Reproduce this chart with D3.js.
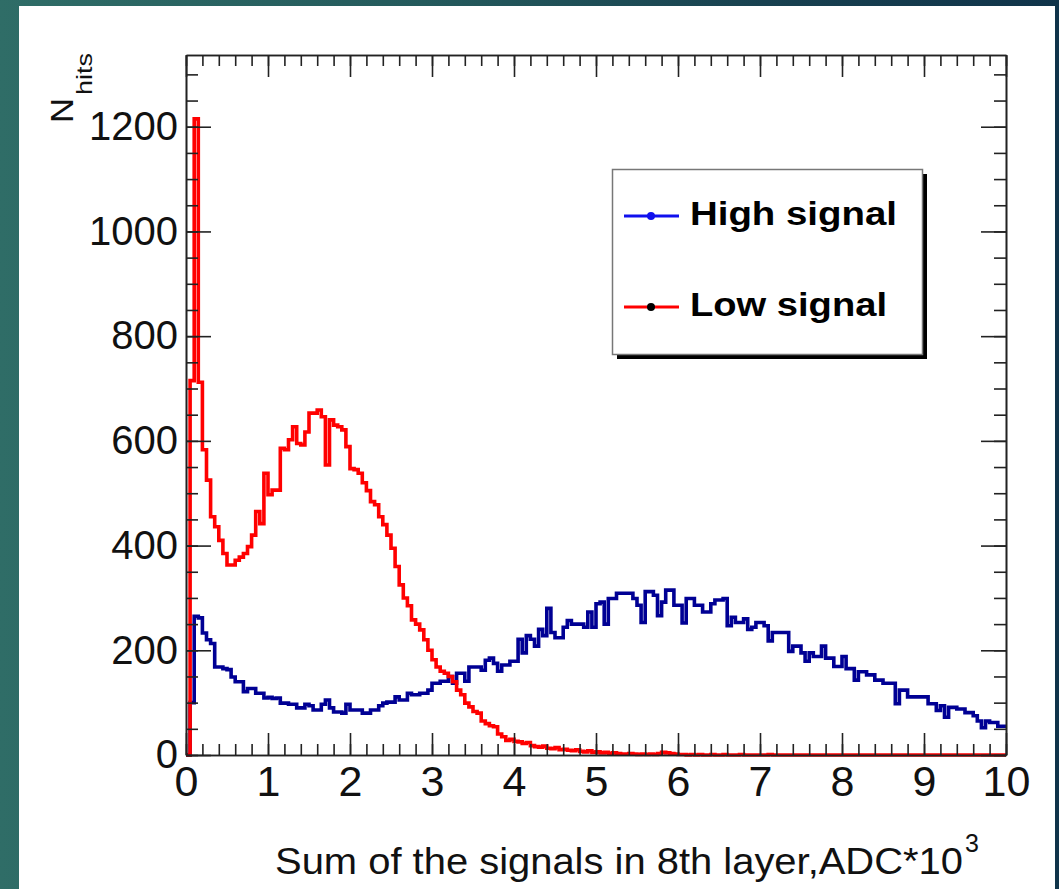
<!DOCTYPE html>
<html>
<head>
<meta charset="utf-8">
<script src="https://cdn.jsdelivr.net/npm/d3@7"></script>
<style>
  html, body { margin: 0; padding: 0; }
  body { width: 1059px; height: 889px; overflow: hidden;
         background: linear-gradient(90deg, #2f6d67 0%, #245a5c 40%, #173f4f 75%, #10344a 100%); }
  svg { position: absolute; left: 0; top: 0; }
  text { font-family: "Liberation Sans", Arial, Helvetica, sans-serif; }
</style>
</head>
<body>
<svg id="chart" width="1059" height="889"></svg>
<script>
// ---------------- data ----------------
const binEdges = [0, 10];          // x range of histogram (ADC*10^3)
const nBins = 200;                 // bin width 0.05
const xTicks = [0,1,2,3,4,5,6,7,8,9,10];
const yTicks = [0,200,400,600,800,1000,1200];
const yMax = 1337;

const highSignal = [
  0,100,265,262,233,220,213,168,168,165,
  163,149,140,140,121,127,127,118,118,109,
  110,108,109,99,99,97,97,90,90,97,
  94,86,86,97,105,90,82,82,80,97,
  86,86,86,80,80,86,86,94,99,101,
  101,111,105,105,118,115,115,118,118,124,
  137,137,141,141,150,137,156,156,141,168,
  168,168,162,181,185,175,160,172,172,179,
  179,221,195,228,221,208,240,228,280,234,
  224,224,244,257,250,250,250,244,273,244,
  289,292,250,299,299,309,309,309,309,299,
  286,253,312,312,305,266,292,315,315,286,
  286,252,299,299,286,286,273,273,289,296,
  296,299,247,263,253,253,260,240,244,253,
  253,247,218,234,234,234,234,198,208,208,
  195,179,195,188,188,208,185,185,169,169,
  188,165,165,143,159,159,153,153,143,143,
  137,137,137,98,124,124,111,111,111,111,
  111,98,98,85,94,72,91,91,88,88,
  81,81,75,65,52,65,62,62,55,55
];

const lowSignal = [
  0,715,1215,712,583,525,455,436,410,385,
  363,363,372,378,385,398,420,465,442,538,
  497,506,506,586,583,602,627,595,592,617,
  653,653,659,646,554,640,630,627,621,589,
  547,545,538,520,505,484,478,455,440,420,
  395,360,325,300,285,258,250,239,220,200,
  182,168,160,156,150,140,124,115,99,92,
  83,80,65,60,56,54,40,35,28,30,
  26,25,22,24,18,16,15,17,13,12,
  14,10,11,9,8,10,7,6,8,5,
  6,4,5,3,4,3,2,2,3,2,
  1,2,1,2,1,3,5,4,3,2,
  1,1,0,1,0,1,0,0,1,0,
  0,1,0,0,0,1,0,0,0,0,
  0,0,1,0,0,0,0,0,0,0,
  0,0,0,0,0,0,0,0,0,0,
  0,0,0,0,0,0,0,0,0,0,
  0,0,0,0,0,0,0,0,0,0,
  0,0,0,0,0,0,0,0,0,0,
  0,0,0,0,0,0,0,0,0,0
];

const seriesNames = ["High signal", "Low signal"];
const seriesColors = ["#000094", "#ff0000"];
const legendLineColors = ["#1010ee", "#ff0000"];
const legendMarkerColors = ["#1010ee", "#000000"];

// ---------------- drawing ----------------
const svg = d3.select("#chart");

// white panel
svg.append("rect").attr("x", 19).attr("y", 6).attr("width", 1036).attr("height", 883).attr("fill", "#ffffff");

const L = 186, R = 1006, T = 55, B = 755;
const x = d3.scaleLinear().domain(binEdges).range([L, R]);
const y = d3.scaleLinear().domain([0, yMax]).range([B, T]);
const bw = (binEdges[1] - binEdges[0]) / nBins;

function histPath(vals) {
  const p = d3.path();
  p.moveTo(x(0), y(0));
  vals.forEach((v, i) => {
    p.lineTo(x(i * bw), y(v));
    p.lineTo(x((i + 1) * bw), y(v));
  });
  return p.toString();
}

// histograms (blue first, red on top)
[highSignal, lowSignal].forEach((vals, k) => {
  svg.append("path")
    .attr("d", histPath(vals))
    .attr("fill", "none")
    .attr("stroke", seriesColors[k])
    .attr("stroke-width", 3.6)
    .attr("stroke-linejoin", "miter");
});

// axes
const xMinor = d3.range(0, 10.0001, 0.2).map(v => +v.toFixed(2));
const yMinor = d3.range(0, yMax, 50);
const axisColor = "#222";

function styleAxis(g) {
  g.selectAll("path.domain").attr("stroke", axisColor).attr("stroke-width", 1.6);
  g.selectAll("line").attr("stroke", axisColor).attr("stroke-width", 1.6);
}

// bottom
const gxMinor = svg.append("g").attr("transform", `translate(0,${B})`)
  .call(d3.axisBottom(x).tickValues(xMinor).tickSizeInner(-11).tickSizeOuter(0).tickFormat(""));
styleAxis(gxMinor);
const gx = svg.append("g").attr("transform", `translate(0,${B})`)
  .call(d3.axisBottom(x).tickValues(xTicks).tickSizeInner(-22).tickSizeOuter(0).tickPadding(10).tickFormat(d3.format("d")));
styleAxis(gx);
gx.selectAll("text").attr("font-size", 43).attr("fill", "#111");

// top
const gtMinor = svg.append("g").attr("transform", `translate(0,${T})`)
  .call(d3.axisTop(x).tickValues(xMinor).tickSizeInner(-11).tickSizeOuter(0).tickFormat(""));
styleAxis(gtMinor);
const gt = svg.append("g").attr("transform", `translate(0,${T})`)
  .call(d3.axisTop(x).tickValues(xTicks).tickSizeInner(-22).tickSizeOuter(0).tickFormat(""));
styleAxis(gt);

// left
const gyMinor = svg.append("g").attr("transform", `translate(${L},0)`)
  .call(d3.axisLeft(y).tickValues(yMinor).tickSizeInner(-12).tickSizeOuter(0).tickFormat(""));
styleAxis(gyMinor);
const gy = svg.append("g").attr("transform", `translate(${L},0)`)
  .call(d3.axisLeft(y).tickValues(yTicks).tickSizeInner(-25).tickSizeOuter(0).tickPadding(8).tickFormat(d3.format("d")));
styleAxis(gy);
gy.selectAll("text").attr("font-size", 40).attr("fill", "#111");

// right
const grMinor = svg.append("g").attr("transform", `translate(${R},0)`)
  .call(d3.axisRight(y).tickValues(yMinor).tickSizeInner(-12).tickSizeOuter(0).tickFormat(""));
styleAxis(grMinor);
const gr = svg.append("g").attr("transform", `translate(${R},0)`)
  .call(d3.axisRight(y).tickValues(yTicks).tickSizeInner(-25).tickSizeOuter(0).tickFormat(""));
styleAxis(gr);

// axis titles
svg.append("text").attr("x", 275).attr("y", 874)
  .attr("font-size", 37).attr("fill", "#111")
  .attr("textLength", 688).attr("lengthAdjust", "spacingAndGlyphs")
  .text("Sum of the signals in 8th layer,ADC*10");
svg.append("text").attr("x", 965).attr("y", 852).attr("font-size", 25).attr("fill", "#111").text("3");

const yt = svg.append("g").attr("transform", "translate(73,123) rotate(-90)");
yt.append("text").attr("x", 0).attr("y", 0).attr("font-size", 32)
  .attr("textLength", 25).attr("lengthAdjust", "spacingAndGlyphs").attr("fill", "#111").text("N");
yt.append("text").attr("x", 28).attr("y", 19).attr("font-size", 22)
  .attr("textLength", 42).attr("lengthAdjust", "spacingAndGlyphs").attr("fill", "#111").text("hits");

// legend
const lg = svg.append("g");
lg.append("rect").attr("x", 617).attr("y", 174).attr("width", 310).attr("height", 185).attr("fill", "#000");
lg.append("rect").attr("x", 612.5).attr("y", 169.5).attr("width", 310).attr("height", 185)
  .attr("fill", "#fff").attr("stroke", "#777").attr("stroke-width", 1.5);
const legY = [216, 307];
const legTextLen = [207, 197];
seriesNames.forEach((name, k) => {
  lg.append("line").attr("x1", 624).attr("x2", 679).attr("y1", legY[k]).attr("y2", legY[k])
    .attr("stroke", legendLineColors[k]).attr("stroke-width", 3);
  lg.append("circle").attr("cx", 651).attr("cy", legY[k]).attr("r", 4).attr("fill", legendMarkerColors[k]);
  lg.append("text").attr("x", 690).attr("y", legY[k] + 9).attr("font-size", 33).attr("font-weight", "bold")
    .attr("textLength", legTextLen[k]).attr("lengthAdjust", "spacingAndGlyphs")
    .attr("fill", "#000").text(name);
});
</script>
</body>
</html>
